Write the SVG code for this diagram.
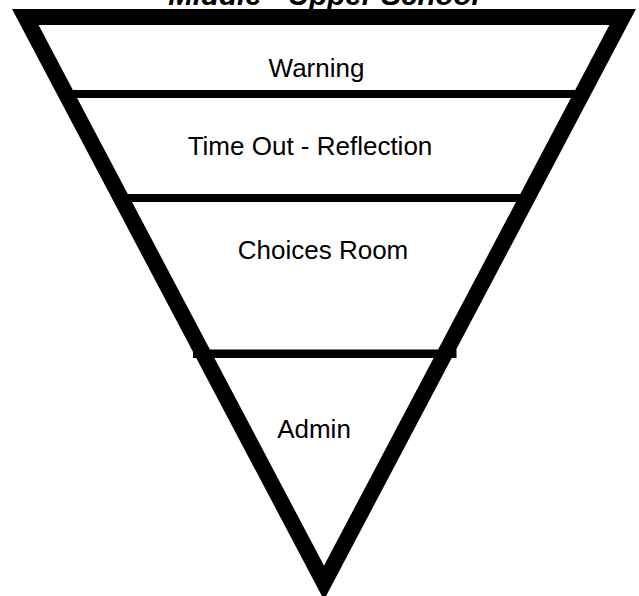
<svg xmlns="http://www.w3.org/2000/svg" width="639" height="596" viewBox="0 0 639 596">
<style>
.lbl{font-family:"Liberation Sans",Arial,sans-serif;font-size:26px;fill:#000;text-anchor:middle}
.title{font-family:"Liberation Sans",Arial,sans-serif;font-size:29.5px;font-weight:bold;font-style:italic;fill:#000;text-anchor:middle}
.sep{stroke:#000;fill:none}
</style>
<rect width="639" height="596" fill="#fff"/>
<text class="title" x="324" y="5">Middle - Upper School</text>
<g id="connectors">
<line class="sep" x1="66" y1="94" x2="582" y2="94" stroke-width="8"/>
<line class="sep" x1="120" y1="198" x2="528" y2="198" stroke-width="8"/>
<line class="sep" x1="193" y1="353.8" x2="456.5" y2="353.8" stroke-width="8.5"/>
</g>
<g id="pyramid">
<polygon points="25.3,17 622.7,17 324,582.8" fill="none" stroke="#000" stroke-width="16" stroke-linejoin="miter" stroke-miterlimit="10"/>
</g>
<g id="warning"><text class="lbl" x="316.5" y="77">Warning</text></g>
<g id="timeout"><text class="lbl" x="310" y="155">Time Out - Reflection</text></g>
<g id="choices"><text class="lbl" x="323" y="259.3">Choices Room</text></g>
<g id="admin"><text class="lbl" x="314" y="438.3">Admin</text></g>
</svg>
